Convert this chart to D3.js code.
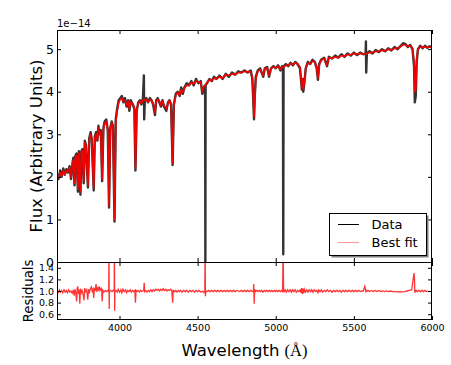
<!DOCTYPE html>
<html><head><meta charset="utf-8">
<script src="https://cdn.jsdelivr.net/npm/d3@7"></script>
<style>body{margin:0;background:#fff}svg{display:block}text{font-family:"DejaVu Sans",sans-serif;}</style>
</head><body><svg id="c" width="451" height="365"></svg>
<script>
// ---- data ----
const wavelength = [3600,3610,3620,3630,3640,3650,3660,3670,3680,3690,3700,3705,3712,3718,3725,3734,3740,3750,3756,3762,3771,3778,3785,3798,3806,3815,3822,3835,3842,3850,3858,3865,3872,3880,3889,3897,3905,3915,3925,3933,3941,3950,3958,3968,3976,3985,3995,4005,4015,4025,4035,4045,4055,4063,4072,4085,4095,4102,4110,4120,4130,4140,4150,4156,4158,4162,4172,4182,4195,4205,4215,4227,4235,4245,4255,4265,4275,4285,4300,4310,4320,4330,4340,4348,4360,4372,4385,4395,4405,4415,4430,4445,4460,4475,4490,4505,4520,4530,4540,4548,4549.5,4551,4560,4575,4590,4605,4620,4640,4660,4680,4700,4720,4740,4760,4780,4800,4820,4840,4850,4856,4861,4866,4872,4885,4900,4920,4930,4945,4957,4970,4985,5000,5015,5030,5040,5046,5048,5050,5052,5065,5080,5095,5110,5125,5140,5155,5167,5172,5176,5183,5192,5205,5220,5235,5250,5262,5270,5278,5290,5310,5328,5340,5360,5380,5400,5420,5440,5460,5480,5500,5520,5540,5560,5575,5577,5579,5583,5600,5620,5640,5660,5680,5700,5720,5740,5760,5780,5800,5815,5830,5845,5860,5875,5885,5890,5896,5902,5910,5925,5940,5955,5970,5985,6000];
const dataFlux = [2.05,1.95,2.15,2.00,2.20,2.05,2.18,2.10,2.25,1.95,2.35,2.45,1.80,2.50,2.55,1.65,2.60,1.58,2.60,2.65,1.85,2.85,2.75,1.75,2.90,3.05,2.90,1.68,2.95,3.05,2.85,3.20,3.00,3.10,1.90,3.15,3.30,3.35,3.10,1.28,3.15,3.30,3.20,0.95,3.35,3.60,3.80,3.85,3.90,3.75,3.85,3.65,3.80,3.55,3.80,3.70,3.60,2.15,3.55,3.75,3.80,3.70,3.85,4.38,3.35,3.80,3.85,3.75,3.85,3.80,3.70,3.45,3.80,3.85,3.75,3.65,3.80,3.65,3.55,3.75,3.80,3.70,2.28,3.70,3.95,4.00,3.90,4.10,3.95,4.10,4.20,4.15,4.25,4.15,4.30,4.20,4.25,3.95,4.10,4.15,0.00,4.15,4.20,4.30,4.25,4.35,4.30,4.38,4.30,4.42,4.35,4.45,4.40,4.48,4.45,4.50,4.45,4.50,4.30,3.80,3.35,3.90,4.35,4.50,4.55,4.35,4.55,4.58,4.35,4.55,4.60,4.55,4.62,4.50,4.60,4.58,0.18,4.58,4.60,4.65,4.60,4.68,4.62,4.70,4.65,4.55,4.05,4.30,4.00,4.20,4.55,4.70,4.65,4.75,4.70,4.55,4.28,4.65,4.75,4.80,4.60,4.82,4.78,4.85,4.80,4.88,4.82,4.90,4.85,4.92,4.86,4.92,4.88,4.90,5.18,4.45,4.90,4.95,4.90,4.98,4.93,5.00,4.95,5.02,4.97,5.05,5.00,5.08,5.14,5.12,5.05,5.10,5.00,4.60,3.75,3.90,4.70,5.00,5.08,5.02,5.08,5.03,5.07,5.03];
const fitFlux = [2.02,1.98,2.10,2.02,2.15,2.06,2.15,2.12,2.22,1.98,2.30,2.40,1.85,2.45,2.50,1.72,2.55,1.65,2.58,2.62,1.90,2.80,2.72,1.80,2.85,3.00,2.88,1.75,2.92,3.00,2.85,3.15,3.00,3.05,1.95,3.10,3.25,3.30,3.10,1.32,3.10,3.28,3.18,1.00,3.30,3.55,3.75,3.82,3.85,3.78,3.80,3.68,3.78,3.60,3.75,3.72,3.62,2.20,3.58,3.72,3.78,3.72,3.80,3.82,3.82,3.80,3.82,3.75,3.82,3.80,3.72,3.50,3.78,3.82,3.78,3.68,3.78,3.68,3.60,3.72,3.80,3.72,2.32,3.68,3.92,3.98,3.92,4.05,3.98,4.08,4.15,4.15,4.22,4.18,4.25,4.22,4.22,4.00,4.12,4.15,4.15,4.15,4.22,4.28,4.26,4.32,4.30,4.35,4.32,4.40,4.38,4.42,4.40,4.45,4.45,4.48,4.46,4.48,4.35,3.90,3.40,3.85,4.30,4.48,4.52,4.38,4.55,4.55,4.38,4.55,4.58,4.56,4.60,4.52,4.58,4.58,4.58,4.58,4.58,4.62,4.62,4.66,4.64,4.68,4.65,4.58,4.10,4.30,4.05,4.22,4.55,4.68,4.65,4.72,4.70,4.58,4.32,4.62,4.74,4.78,4.62,4.80,4.78,4.82,4.80,4.85,4.83,4.88,4.86,4.90,4.88,4.90,4.88,4.90,4.90,4.90,4.90,4.92,4.92,4.95,4.95,4.97,4.96,5.00,4.98,5.02,5.02,5.06,5.10,5.10,5.07,5.08,5.02,4.70,4.00,4.05,4.75,5.00,5.05,5.04,5.06,5.04,5.05,5.04];
const resWave = [3600,3608,3615,3622,3630,3637,3645,3652,3660,3667,3675,3682,3690,3697,3704,3710,3714,3720,3726,3729,3733,3738,3742,3746,3750,3755,3760,3766,3773,3777,3782,3790,3797,3802,3808,3814,3820,3825,3830,3835,3839,3845,3850,3854,3860,3865,3870,3875,3882,3886,3889,3893,3900,3908,3915,3922,3929,3931,3932.5,3934,3936,3944,3952,3960,3966,3967.5,3969,3971,3978,3985,3992,4000,4008,4015,4022,4030,4038,4045,4052,4060,4068,4075,4082,4090,4098,4102,4106,4113,4120,4128,4135,4142,4150,4155,4158,4161,4168,4176,4184,4192,4200,4208,4216,4224,4232,4240,4248,4256,4264,4272,4280,4288,4296,4304,4312,4320,4328,4335,4340,4344,4352,4360,4368,4376,4384,4392,4400,4410,4420,4430,4440,4450,4460,4470,4480,4490,4500,4510,4520,4530,4540,4546,4548,4550,4553,4560,4570,4580,4590,4600,4610,4620,4630,4640,4650,4660,4670,4680,4690,4700,4710,4720,4730,4740,4750,4760,4770,4780,4790,4800,4810,4820,4830,4840,4850,4857,4859,4862,4865,4870,4878,4886,4894,4902,4910,4918,4926,4934,4942,4950,4958,4966,4974,4982,4990,4998,5006,5014,5022,5030,5038,5044,5047,5050,5054,5060,5068,5076,5084,5092,5100,5108,5116,5124,5132,5140,5148,5156,5162,5166,5170,5174,5178,5183,5190,5198,5206,5214,5222,5230,5238,5246,5254,5262,5270,5276,5284,5292,5300,5310,5320,5330,5340,5350,5360,5370,5380,5390,5400,5410,5420,5430,5440,5450,5460,5470,5480,5490,5500,5510,5520,5530,5540,5550,5560,5570,5576,5578,5580,5590,5600,5612,5624,5636,5648,5660,5672,5684,5696,5708,5720,5735,5750,5765,5780,5795,5810,5825,5840,5855,5870,5885,5888,5890,5892,5894,5898,5906,5915,5925,5935,5945,5955,5965,5975,5985,6000];
const resValue = [1.00,0.97,1.02,0.98,1.01,0.97,1.02,0.98,1.01,0.97,1.02,0.98,1.00,0.96,1.02,0.92,1.03,0.97,0.82,1.04,1.08,0.95,1.02,0.78,1.04,0.97,1.01,0.96,0.84,1.05,0.99,1.02,0.85,1.03,0.98,1.04,1.07,1.00,1.03,0.88,1.04,1.02,1.12,0.99,1.05,1.02,1.08,1.01,1.05,1.02,0.82,1.01,0.98,1.01,0.99,1.01,0.99,1.00,1.80,0.69,1.00,1.01,0.99,1.01,1.00,1.80,0.66,1.00,1.01,0.98,1.03,0.98,1.02,0.97,1.03,0.99,1.02,0.97,1.01,0.99,1.02,0.98,1.01,0.99,1.01,0.80,1.01,0.99,1.01,0.98,1.01,0.99,1.00,1.02,1.14,0.99,1.01,0.98,1.01,0.99,1.02,0.99,1.02,1.00,1.03,1.01,1.03,1.00,1.03,1.01,1.04,1.01,1.03,1.00,1.02,1.01,1.03,1.00,0.80,1.01,0.99,1.01,0.98,1.01,0.99,1.01,0.98,1.01,0.99,1.01,0.98,1.01,0.99,1.01,0.98,1.01,0.99,1.01,0.98,1.00,0.97,1.00,1.80,0.91,1.00,0.99,1.01,0.99,1.01,0.99,1.01,0.99,1.01,0.99,1.01,0.99,1.01,0.99,1.01,0.99,1.01,0.99,1.01,0.99,1.01,1.00,0.99,1.01,0.99,1.01,0.99,1.01,0.99,1.01,0.99,1.00,1.12,0.78,1.03,0.99,1.01,0.99,1.01,0.99,1.01,0.98,1.01,0.99,1.01,0.99,1.01,0.99,1.01,0.99,1.01,0.99,1.01,0.99,1.01,0.99,1.01,0.99,1.80,1.01,0.99,1.02,0.98,1.02,0.99,1.02,0.98,1.02,0.99,1.02,0.98,1.01,0.99,1.02,0.97,1.05,0.95,1.04,0.96,1.03,0.98,1.02,0.98,1.02,0.99,1.02,0.98,1.02,0.99,1.01,0.97,1.02,0.99,1.02,0.98,1.01,0.99,1.02,0.99,1.01,0.98,1.01,0.99,1.01,0.99,1.01,0.98,1.01,0.99,1.01,0.99,1.01,0.99,1.01,0.99,1.01,0.99,1.01,0.99,1.00,1.00,1.08,1.00,1.01,0.99,1.01,0.99,1.01,0.99,1.01,0.99,1.01,0.99,1.00,0.99,1.00,0.99,1.00,0.99,0.99,0.985,0.99,0.985,0.99,1.00,1.01,1.02,1.31,1.20,0.97,1.01,0.99,1.01,0.99,1.01,0.99,1.01,0.99,1.01,0.99,1.00];
const xTicks = [4000,4500,5000,5500,6000];
const fluxTicks = [0,1,2,3,4,5];
const resTicks = [0.6,0.8,1.0,1.2,1.4];
const legendLabels = ["Data","Best fit"];

// ---- layout ----
const L = 57, R = 432, T = 30, MB = 262, RB = 320;
const svg = d3.select("#c");
const x = d3.scaleLinear().domain([3600,6000]).range([L,R]);
const yMain = d3.scaleLinear().domain([0,5.45]).range([MB,T]);
const yRes = d3.scaleLinear().domain([0.5,1.5]).range([RB,MB]);

const defs = svg.append("defs");
defs.append("clipPath").attr("id","cm").append("rect").attr("x",L).attr("y",T).attr("width",R-L).attr("height",MB-T);
defs.append("clipPath").attr("id","cr").append("rect").attr("x",L).attr("y",MB).attr("width",R-L).attr("height",RB-MB);

const spec = wavelength.map((w,i)=>({w, d:dataFlux[i], f:fitFlux[i]}));
const res = resWave.map((w,i)=>({w, r:resValue[i]}));

const gm = svg.append("g").attr("clip-path","url(#cm)");
gm.append("path").datum(spec).attr("fill","none").attr("stroke","#000").attr("stroke-opacity",0.8).attr("stroke-width",2.4).attr("stroke-linejoin","round")
  .attr("d", d3.line().x(d=>x(d.w)).y(d=>yMain(d.d)));
gm.append("path").datum(spec).attr("fill","none").attr("stroke","#ff0000").attr("stroke-opacity",0.92).attr("stroke-width",1.7).attr("stroke-linejoin","round")
  .attr("d", d3.line().x(d=>x(d.w)).y(d=>yMain(d.f)));

const gr = svg.append("g").attr("clip-path","url(#cr)");
gr.append("path").datum(res).attr("fill","none").attr("stroke","#ff0000").attr("stroke-opacity",0.8).attr("stroke-width",1.3)
  .attr("d", d3.line().x(d=>x(d.w)).y(d=>yRes(d.r)));

// ---- axes ----
function styleAxis(g, fs){
  g.select(".domain").remove();
  g.selectAll(".tick line").attr("stroke","#000");
  g.selectAll(".tick text").attr("fill","#000").attr("font-size",fs).attr("font-family","DejaVu Sans");
}
const none = ()=>"";
styleAxis(svg.append("g").attr("transform",`translate(${L},0)`).call(d3.axisLeft(yMain).tickValues(fluxTicks).tickSizeInner(-4).tickSizeOuter(0).tickPadding(3).tickFormat(d3.format("d"))), 12.5);
styleAxis(svg.append("g").attr("transform",`translate(${R},0)`).call(d3.axisRight(yMain).tickValues(fluxTicks).tickSizeInner(-4).tickSizeOuter(0).tickFormat(none)), 10);
styleAxis(svg.append("g").attr("transform",`translate(0,${T})`).call(d3.axisTop(x).tickValues(xTicks).tickSizeInner(-4).tickSizeOuter(0).tickFormat(none)), 10);
styleAxis(svg.append("g").attr("transform",`translate(0,${MB})`).call(d3.axisBottom(x).tickValues(xTicks).tickSizeInner(-4).tickSizeOuter(0).tickFormat(none)), 10);
styleAxis(svg.append("g").attr("transform",`translate(0,${MB})`).call(d3.axisTop(x).tickValues(xTicks).tickSizeInner(-4).tickSizeOuter(0).tickFormat(none)), 10);
styleAxis(svg.append("g").attr("transform",`translate(0,${RB})`).call(d3.axisBottom(x).tickValues(xTicks).tickSizeInner(-4).tickSizeOuter(0).tickPadding(4).tickFormat(d3.format("d"))), 9.5);
styleAxis(svg.append("g").attr("transform",`translate(${L},0)`).call(d3.axisLeft(yRes).tickValues(resTicks).tickSizeInner(-4).tickSizeOuter(0).tickPadding(3).tickFormat(d3.format(".1f"))), 9.5);
styleAxis(svg.append("g").attr("transform",`translate(${R},0)`).call(d3.axisRight(yRes).tickValues(resTicks).tickSizeInner(-4).tickSizeOuter(0).tickFormat(none)), 10);

// frames
svg.append("rect").attr("x",L+0.5).attr("y",T+0.5).attr("width",R-L-1).attr("height",MB-T).attr("fill","none").attr("stroke","#000");
svg.append("rect").attr("x",L+0.5).attr("y",MB+0.5).attr("width",R-L-1).attr("height",RB-MB-1).attr("fill","none").attr("stroke","#000");

// ---- labels ----
svg.append("text").attr("x",L).attr("y",27).attr("font-size",10).text("1e\u221214");
svg.append("text").attr("transform",`translate(41.5,${(T+MB)/2}) rotate(-90)`).attr("text-anchor","middle").attr("font-size",16.5).text("Flux (Arbitrary Units)");
svg.append("text").attr("transform",`translate(33,${(MB+RB)/2}) rotate(-90)`).attr("text-anchor","middle").attr("font-size",13.2).text("Residuals");
const xl = svg.append("text").attr("x",(L+R)/2).attr("y",356).attr("text-anchor","middle").attr("font-size",16.5);
xl.append("tspan").text("Wavelength ");
xl.append("tspan").attr("font-family","Liberation Serif").text("(\u00C5)");

// ---- legend ----
const lx = 329, ly = 213, lw = 97, lh = 42;
svg.append("rect").attr("x",lx+2.5).attr("y",ly+2.5).attr("width",lw).attr("height",lh).attr("fill","#808080");
svg.append("rect").attr("x",lx+0.5).attr("y",ly+0.5).attr("width",lw).attr("height",lh).attr("fill","#fff").attr("stroke","#000");
const legColors = ["#000","#ff0000"], legOp = [1,0.4];
legendLabels.forEach((lab,i)=>{
  const yy = ly + 11.5 + i*18;
  svg.append("line").attr("x1",338).attr("x2",359).attr("y1",yy).attr("y2",yy).attr("stroke",legColors[i]).attr("stroke-opacity",legOp[i]).attr("stroke-width",1);
  svg.append("text").attr("x",371.5).attr("y",yy+4.5).attr("font-size",13).text(lab);
});
</script></body></html>
